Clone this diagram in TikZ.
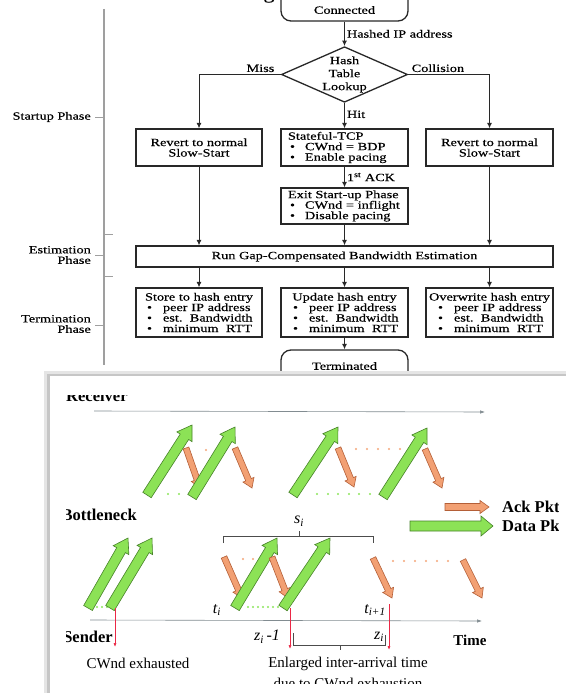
\documentclass[tikz,border=0pt]{standalone}
\usepackage{fontspec}
\setmainfont{Liberation Serif}
\newfontfamily\fcf[FakeStretch=1.3,FakeBold=0.4]{Liberation Serif}
\usetikzlibrary{calc,arrows.meta,shapes.geometric}

\definecolor{ink}{RGB}{40,40,40}
\definecolor{gfill}{RGB}{140,226,86}
\definecolor{gline}{RGB}{70,130,40}
\definecolor{ofill}{RGB}{242,160,115}
\definecolor{oline}{RGB}{180,95,55}
\definecolor{axisc}{RGB}{130,140,145}
\definecolor{redc}{RGB}{235,40,70}
\definecolor{gdotc}{RGB}{140,230,90}
\definecolor{odotc}{RGB}{245,165,120}

\newcommand\blk[6]{%
  \coordinate (bkH) at ($(#3)!#6!(#2)$);
  \path[#1] ($(#2)!#4!90:(#3)$) -- ($(bkH)!#4!90:(#3)$) -- ($(bkH)!#5!90:(#3)$) -- (#3)
    -- ($(bkH)!#5!-90:(#3)$) -- ($(bkH)!#4!-90:(#3)$) -- ($(#2)!#4!-90:(#3)$) -- cycle;}

\tikzset{
  fc/.style={font=\fcf\fontsize{11}{10.5}\selectfont, inner sep=1pt},
  box/.style={draw=ink, line width=1.3pt, font=\fcf\fontsize{11}{10.5}\selectfont, inner sep=0pt, align=center},
  stad/.style={draw=ink, line width=1.3pt, rounded corners=10pt, minimum width=127pt, minimum height=40pt, inner sep=0pt},
  dia/.style={draw=ink, line width=1.3pt, diamond, aspect=2.27, minimum width=125pt, minimum height=55pt, inner sep=0pt, align=center, font=\fcf\fontsize{11}{13}\selectfont},
  conn/.style={draw=ink, line width=0.9pt, -{Latex[length=5.5pt,width=5pt]}},
  lab/.style={font=\fcf\fontsize{11}{10.5}\selectfont, inner sep=2pt},
  phase/.style={draw=gray!75, line width=1.3pt},
  tck/.style={draw=gray!75, line width=0.8pt},
  plab/.style={font=\fcf\fontsize{11}{10.5}\selectfont, align=right, inner sep=0pt},
  garr/.style={fill=gfill, draw=gline, line width=0.6pt},
  oarr/.style={fill=ofill, draw=oline, line width=0.6pt},
  axisl/.style={draw=axisc, line width=0.6pt, -{Latex[length=5pt,width=3.5pt]}},
  redl/.style={draw=redc, line width=0.7pt, -{Latex[length=4pt,width=3pt]}},
  brk/.style={draw=gray!60!black, line width=0.7pt},
  bt/.style={font=\bfseries\fontsize{16.5}{17}\selectfont, inner sep=0pt},
  rt/.style={font=\fontsize{15}{16}\selectfont, inner sep=0pt},
  itl/.style={font=\itshape\fontsize{16}{17}\selectfont, inner sep=0pt},
}

\begin{document}
\begin{tikzpicture}[x=1pt,y=-1pt]
\useasboundingbox (0,0) rectangle (566,693);
\fill[white] (0,0) rectangle (566,693);

% caption descender at the very top
\node[font=\fcf\fontsize{17}{17}\selectfont, anchor=base, inner sep=0pt] (capg) at (269,-1) {g};

% phase bar
\draw[phase] (104,9) -- (104,365);
\draw[tck] (95,117) -- (104,117);
\draw[tck] (95,255) -- (104,255);
\draw[tck] (95,325) -- (104,325);
\draw[tck] (104,234) -- (113,234);
\draw[tck] (104,276) -- (113,276);
\node[plab, anchor=east] (pstart) at (91,117) {Startup Phase};
\node[plab, anchor=east] (pest) at (91,255) {Estimation\\Phase};
\node[plab, anchor=east] (pterm) at (91,324) {Termination\\Phase};

% flowchart
\node[stad, minimum height=32pt] (conn) at (344.5,5) {};
\node[fc] (connT) at (344.5,10) {Connected};
\node[dia] (look) at (344.5,74.5) {Hash\\Table\\Lookup};
\draw[conn] (conn.south) -- node[lab, right] {Hashed IP address} (look.north);

\node[box, minimum width=126pt, minimum height=37pt] (revL) at (199,147.5) {Revert to normal\\Slow-Start};
\node[box, minimum width=127pt, minimum height=37pt, align=left, text width=113pt, inner xsep=7pt] (stat) at (344.5,147.5)
  {Stateful-TCP\\\hspace*{2pt}\makebox[15pt][l]{\textbullet}CWnd = BDP\\\hspace*{2pt}\makebox[15pt][l]{\textbullet}Enable pacing};
\node[box, minimum width=127pt, minimum height=37pt] (revR) at (489.5,147.5) {Revert to normal\\Slow-Start};
\node[box, minimum width=127pt, minimum height=36pt, align=left, text width=113pt, inner xsep=7pt] (exit) at (344.5,206)
  {Exit Start-up Phase\\\hspace*{2pt}\makebox[15pt][l]{\textbullet}CWnd = inflight\\\hspace*{2pt}\makebox[15pt][l]{\textbullet}Disable pacing};
\node[box, minimum width=417pt, minimum height=21pt] (est) at (344.5,256.5) {Run Gap-Compensated Bandwidth Estimation};
\node[box, minimum width=126pt, minimum height=49pt, align=left, text width=118pt, inner xsep=4pt] (stoL) at (199,312.5)
  {\makebox[118pt][c]{Store to hash entry}\\\hspace*{7pt}\makebox[16pt][l]{\textbullet}peer IP address\\\hspace*{7pt}\makebox[16pt][l]{\textbullet}est.\ \ Bandwidth\\\hspace*{7pt}\makebox[16pt][l]{\textbullet}minimum\ \ RTT};
\node[box, minimum width=127pt, minimum height=49pt, align=left, text width=119pt, inner xsep=4pt] (updM) at (344.5,312.5)
  {\makebox[119pt][c]{Update hash entry}\\\hspace*{8pt}\makebox[16pt][l]{\textbullet}peer IP address\\\hspace*{8pt}\makebox[16pt][l]{\textbullet}est.\ \ Bandwidth\\\hspace*{8pt}\makebox[16pt][l]{\textbullet}minimum\ \ RTT};
\node[box, minimum width=127pt, minimum height=49pt, align=left, text width=119pt, inner xsep=4pt] (ovrR) at (489.5,312.5)
  {\makebox[119pt][c]{Overwrite hash entry}\\\hspace*{8pt}\makebox[16pt][l]{\textbullet}peer IP address\\\hspace*{8pt}\makebox[16pt][l]{\textbullet}est.\ \ Bandwidth\\\hspace*{8pt}\makebox[16pt][l]{\textbullet}minimum\ \ RTT};
\node[stad] (term) at (344.5,370) {};
\node[fc] (termT) at (344.5,366) {Terminated};

\draw[conn] (look.west) -- node[lab, pos=0, anchor=south east, xshift=-4pt] {Miss} (look.west -| revL.north) -- (revL.north);
\draw[conn] (look.east) -- node[lab, pos=0, anchor=south west, xshift=1pt] {Collision} (look.east -| revR.north) -- (revR.north);
\draw[conn] (look.south) -- node[lab, right, pos=0.45] {Hit} (stat.north);
\draw[conn] (stat.south) -- node[lab, right] {1\textsuperscript{st} ACK} (exit.north);
\draw[conn] (revL.south) -- (revL.south |- est.north);
\draw[conn] (exit.south) -- (est.north);
\draw[conn] (revR.south) -- (revR.south |- est.north);
\draw[conn] (est.south -| stoL.north) -- (stoL.north);
\draw[conn] (est.south) -- (updM.north);
\draw[conn] (est.south -| ovrR.north) -- (ovrR.north);
\draw[conn] (updM.south) -- (term.north);

% screenshot frame
\fill[gray!20] (44,371) rectangle (566,693);
\fill[gray!45] (47,374) rectangle (566,693);
\fill[white] (50,376) rectangle (566,693);

\begin{scope}
\clip (66,395) rectangle (558,683);
\node[bt, anchor=base west] (recv) at (66,401) {Receiver};
\node[bt, anchor=east] (bott) at (137,515) {Bottleneck};
\node[bt, anchor=east] (send) at (113,637) {Sender};
\node[bt, anchor=center, font=\bfseries\fontsize{15}{16}\selectfont] (timeT) at (470,640) {Time};

\coordinate (rx0) at (94,411);
\coordinate (rx1) at (485,412);
\draw[axisl] (rx0) -- (rx1);
\coordinate (sx0) at (90,620);
\coordinate (sx1) at (482,621);
\draw[axisl] (sx0) -- (sx1);

% dots
\foreach \x in {206,217} \fill[odotc] (\x,450) circle (1.2pt);
\foreach \x in {356,367,378,389,400,411} \fill[odotc] (\x,449) circle (1.2pt);
\foreach \x in {168,179} \fill[gdotc] (\x,494) circle (1.2pt);
\foreach \x in {317,328,338,349,359,370} \fill[gdotc] (\x,494) circle (1.2pt);
\foreach \x in {97,102,107} \fill[gdotc] (\x,607) circle (1.1pt);
\foreach \x in {248,253,258,263,268,273,278} \fill[gdotc] (\x,607) circle (1.1pt);
\foreach \x in {243,253} \fill[odotc] (\x,559) circle (1.2pt);
\foreach \x in {393,404,415,426,437,448} \fill[odotc] (\x,561) circle (1.2pt);

% upper arrows
\blk{garr}{147,495}{192,425}{5pt}{9pt}{14pt}
\blk{oarr}{186,448}{200,488}{3pt}{6pt}{9pt}
\blk{garr}{192,497}{235,427}{5pt}{9pt}{14pt}
\blk{oarr}{235,448}{252,488}{3pt}{6pt}{9pt}
\blk{garr}{293,495}{338,427}{5pt}{9pt}{14pt}
\blk{oarr}{338,448}{354,487}{3pt}{6pt}{9pt}
\blk{garr}{383,497}{427,428}{5pt}{9pt}{14pt}
\blk{oarr}{425,449}{442,488}{3pt}{6pt}{9pt}

% lower arrows
\blk{garr}{88,608}{128,538}{5pt}{9pt}{14pt}
\blk{garr}{110,608}{152,538}{5pt}{9pt}{14pt}
\blk{oarr}{224,557}{242,598}{3pt}{6pt}{9pt}
\blk{garr}{235,608}{277,538}{5pt}{9pt}{14pt}
\blk{oarr}{272,557}{288,598}{3pt}{6pt}{9pt}
\blk{garr}{283,608}{330,538}{5pt}{9pt}{14pt}
\blk{oarr}{373,558}{392,598}{3pt}{6pt}{9pt}
\blk{oarr}{463,560}{482,598}{3pt}{6pt}{9pt}

% legend
\blk{oarr}{445,507}{489,507}{3.5pt}{6.5pt}{9pt}
\blk{garr}{410,526}{493,526}{5pt}{10pt}{12pt}
\node[bt, anchor=west] (ackT) at (502,507) {Ack Pkt};
\node[bt, anchor=west] (dataT) at (502,526) {Data Pkt};

% brace s_i
\draw[brk] (223,543) -- (223,536) -- (373,536) -- (373,543);
\draw[brk] (299,536) -- (299,531);
\node[itl] (si) at (299,521) {s\textsubscript{i}};

% labels
\node[itl] (ti) at (217,610) {t\textsubscript{i}};
\node[itl] (ti1) at (375,610) {t\textsubscript{i+1}};
\node[itl] (zim) at (267,637) {z\textsubscript{i}\,-1};
\node[itl] (zi) at (379,637) {z\textsubscript{i}};

% red markers
\coordinate (r1a) at (115,608); \coordinate (r1b) at (115,647);
\coordinate (r2a) at (290,608); \coordinate (r2b) at (290,649);
\coordinate (r3a) at (389,604); \coordinate (r3b) at (389,650);
\draw[redl] (r1a) -- (r1b);
\draw[redl] (r2a) -- (r2b);
\draw[redl] (r3a) -- (r3b);

% bracket below
\draw[brk] (293,633) -- (293,645) -- (385,645) -- (385,635);
\draw[brk] (340,645) -- (340,650);

\node[rt] (cwex) at (138,663) {CWnd exhausted};
\node[rt] (enl) at (348,664) {Enlarged inter-arrival time};
\node[rt] (due) at (348,683) {due to CWnd exhaustion};
\end{scope}
\end{tikzpicture}
\end{document}
